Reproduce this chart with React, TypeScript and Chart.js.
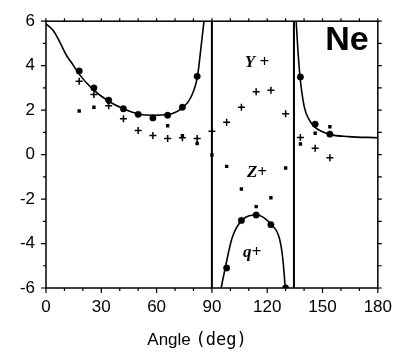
import React, { useEffect, useRef } from 'react';
import { Chart, registerables } from 'chart.js';

Chart.register(...registerables);

// Measured points (filled circles)
const circleAngles = [18, 26, 34, 42, 50, 58, 66, 74, 82, 98, 106, 114, 122, 130, 138, 146, 154];
const circleValues = [3.76, 3.0, 2.45, 2.06, 1.81, 1.65, 1.77, 2.13, 3.52, -5.1, -2.96, -2.72, -3.15, -6.0, 3.49, 1.37, 0.92];

// Y+ points (plus markers)
const plusAngles = [18, 26, 34, 42, 50, 58, 66, 74, 82, 90, 98, 106, 114, 122, 130, 138, 146, 154];
const plusValues = [3.3, 2.7, 2.2, 1.61, 1.08, 0.86, 0.72, 0.76, 0.72, 1.05, 1.45, 2.13, 2.83, 2.89, 1.84, 0.77, 0.28, -0.14];

// Z+ points (small squares)
const squareAngles = [18, 26, 34, 42, 50, 58, 66, 74, 82, 90, 98, 106, 114, 122, 130, 138, 146, 154];
const squareValues = [1.96, 2.13, 2.35, 2.0, 1.8, 1.6, 1.3, 0.85, 0.5, -0.02, -0.53, -1.55, -2.34, -1.94, -0.6, 0.48, 0.96, 1.25];

// Theory curves
const leftCurveAngles = [0, 4, 7.5, 11, 14.6, 18, 25, 34, 42, 50, 58, 66, 74, 78.6, 82.2, 84, 85.7];
const leftCurveValues = [5.88, 5.57, 5.06, 4.48, 4.04, 3.62, 2.97, 2.4, 2.06, 1.83, 1.77, 1.8, 2.1, 2.58, 3.53, 4.77, 6.0];
const qCurveAngles = [95, 97.3, 100.9, 106.2, 114.2, 122.2, 126.6, 128.4, 129.8];
const qCurveValues = [-6.0, -5.07, -3.76, -2.96, -2.72, -3.15, -3.76, -4.64, -6.0];
const rightCurveAngles = [135.7, 136.6, 137.8, 140.1, 142.8, 146, 154, 164, 180];
const rightCurveValues = [6.0, 4.77, 3.49, 2.15, 1.56, 1.22, 0.91, 0.81, 0.76];

// Vertical boundaries
const boundaryAngles = [90, 134.5];

const xTickLabels = [0, 30, 60, 90, 120, 150, 180];
const yTickLabels = [6, 4, 2, 0, -2, -4, -6];

const toXY = (xs: number[], ys: number[]) => xs.map((x, i) => ({ x, y: ys[i] }));

const framePlugin = {
  id: 'frame',
  afterDraw(chart: any) {
    const ctx = chart.ctx;
    const { left, right, top, bottom } = chart.chartArea;
    const xs = chart.scales.x;
    const ys = chart.scales.y;
    ctx.save();
    ctx.strokeStyle = '#000';
    ctx.lineWidth = 1.5;
    ctx.strokeRect(left, top, right - left, bottom - top);
    ctx.lineWidth = 1.2;
    ctx.beginPath();
    for (let v = 0; v <= 180; v += 10) {
      const px = xs.getPixelForValue(v);
      const major = v % 30 === 0;
      ctx.moveTo(px, bottom);
      ctx.lineTo(px, bottom + (major ? 5 : 3));
      ctx.moveTo(px, top);
      ctx.lineTo(px, top - 3);
    }
    for (let v = -6; v <= 6; v += 1) {
      const py = ys.getPixelForValue(v);
      const major = v % 2 === 0;
      ctx.moveTo(left, py);
      ctx.lineTo(left - (major ? 5 : 3), py);
      ctx.moveTo(right, py);
      ctx.lineTo(right + 4, py);
    }
    ctx.stroke();

    // Axis title
    ctx.fillStyle = '#000';
    ctx.textBaseline = 'alphabetic';
    ctx.textAlign = 'left';
    ctx.font = '17px "Liberation Sans", Arial, sans-serif';
    const t1 = 'Angle ';
    const w1 = ctx.measureText(t1).width;
    ctx.font = '17px "DejaVu Sans Mono", monospace';
    const t2 = '(deg)';
    const w2 = ctx.measureText(t2).width;
    const startX = 197 - (w1 + w2) / 2;
    ctx.font = '17px "Liberation Sans", Arial, sans-serif';
    ctx.fillText(t1, startX, 345);
    ctx.font = '17px "DejaVu Sans Mono", monospace';
    ctx.fillText(t2, startX + w1, 345);

    // Annotations
    ctx.textAlign = 'center';
    ctx.textBaseline = 'alphabetic';
    ctx.font = 'italic bold 17px "Liberation Serif", serif';
    ctx.fillText('Y +', 257, 67);
    ctx.fillText('Z+', 257, 177);
    ctx.fillText('q+', 252, 257);
    ctx.font = 'bold 34px "Liberation Sans", Arial, sans-serif';
    ctx.fillText('Ne', 347, 50);
    ctx.restore();
  },
};

export default function App() {
  const ref = useRef<HTMLCanvasElement>(null);
  useEffect(() => {
    if (!ref.current) return;
    const lineDs = (data: any[]) => ({
      type: 'line' as const,
      data,
      borderColor: '#000',
      borderWidth: 1.6,
      pointRadius: 0,
      showLine: true,
      fill: false,
      cubicInterpolationMode: 'monotone' as const,
    });
    const chart = new Chart(ref.current, {
      type: 'scatter',
      data: {
        datasets: [
          lineDs(toXY(leftCurveAngles, leftCurveValues)),
          lineDs(toXY(qCurveAngles, qCurveValues)),
          lineDs(toXY(rightCurveAngles, rightCurveValues)),
          ...boundaryAngles.map((a) => ({
            type: 'line' as const,
            data: [{ x: a, y: -6 }, { x: a, y: 6 }],
            borderColor: '#000',
            borderWidth: 2,
            pointRadius: 0,
            showLine: true,
            fill: false,
          })),
          {
            data: toXY(squareAngles, squareValues),
            pointStyle: 'rect',
            pointRadius: 2.4,
            backgroundColor: '#000',
            borderColor: '#000',
            borderWidth: 0,
          },
          {
            data: toXY(plusAngles, plusValues),
            pointStyle: 'cross',
            pointRadius: 3.5,
            borderColor: '#000',
            borderWidth: 1.5,
          },
          {
            data: toXY(circleAngles, circleValues),
            pointStyle: 'circle',
            pointRadius: 3.2,
            backgroundColor: '#000',
            borderColor: '#000',
            borderWidth: 0.5,
          },
        ] as any,
      },
      options: {
        animation: false,
        responsive: false,
        devicePixelRatio: 1,
        layout: { padding: { top: 13, right: 18, left: 0, bottom: 0 } },
        plugins: { legend: { display: false }, tooltip: { enabled: false } },
        scales: {
          x: {
            type: 'linear',
            position: 'bottom',
            min: 0,
            max: 180,
            afterFit: (s: any) => { s.height = 66; },
            afterBuildTicks: (s: any) => { s.ticks = xTickLabels.map((v) => ({ value: v })); },
            ticks: {
              color: '#000',
              font: { family: '"Liberation Sans", Arial, sans-serif', size: 17 },
              padding: 9,
              autoSkip: false,
              maxRotation: 0,
            },
            grid: { display: false, drawTicks: false },
            border: { display: false },
          },
          y: {
            type: 'linear',
            min: -6,
            max: 6,
            afterFit: (s: any) => { s.width = 46; },
            afterBuildTicks: (s: any) => { s.ticks = yTickLabels.map((v) => ({ value: v })); },
            ticks: {
              color: '#000',
              font: { family: '"Liberation Sans", Arial, sans-serif', size: 17 },
              padding: 11,
              autoSkip: false,
            },
            grid: { display: false, drawTicks: false },
            border: { display: false },
          },
        },
      },
      plugins: [framePlugin],
    });
    return () => chart.destroy();
  }, []);
  return (
    <div style={{ position: 'absolute', left: 0, top: 0, width: 401, height: 354, background: '#fff' }}>
      <canvas ref={ref} width={401} height={354} />
    </div>
  );
}
